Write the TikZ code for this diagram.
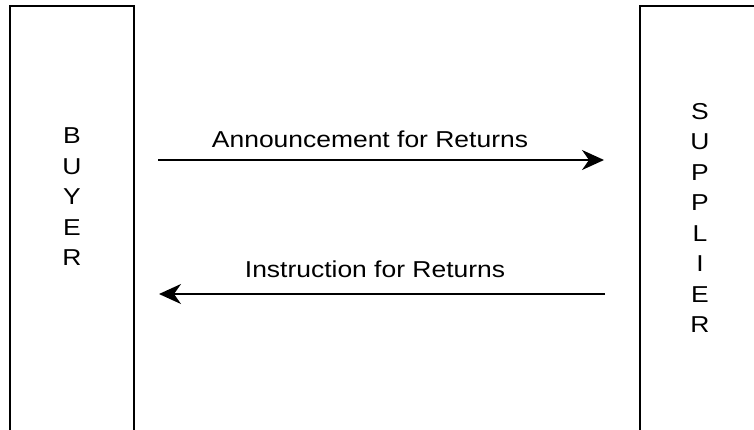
\documentclass[tikz,border=0pt]{standalone}
\usepackage{fontspec}
\setmainfont{Liberation Sans}[FakeStretch=1.15]
\usetikzlibrary{arrows.meta}
\begin{document}
\begin{tikzpicture}[
    x=1pt, y=-1pt,
    party/.style={rectangle, draw=black, line width=1.5pt, minimum width=#1, minimum height=480pt, inner sep=0pt},
    letters/.style={align=center, inner sep=0pt, font=\fontsize{23}{30.5}\selectfont},
    msg/.style={anchor=base, inner sep=0pt, font=\fontsize{23}{26}\selectfont},
    flow/.style={-{Stealth[length=22pt, width=20pt, inset=7pt]}, line width=1.8pt}
]
    \clip (0,0) rectangle (754,429);
    \node[party=124pt] at (72,246) (buyer) {};
    \node[party=120pt] at (700,246) (supplier) {};

    \node[letters] at (72,197) (buyername) {B\\U\\Y\\E\\R};
    \node[letters] at (700,218) (suppliername) {S\\U\\P\\P\\L\\I\\E\\R};

    \coordinate (a1) at (158,160);
    \coordinate (a2) at (604,160);
    \coordinate (b1) at (605,294);
    \coordinate (b2) at (159,294);

    \draw[flow] (a1) -- (a2);
    \draw[flow] (b1) -- (b2);
    \node[msg] at (370,147) (announce) {Announcement for Returns};
    \node[msg] at (375,277) (instruct) {Instruction for Returns};
\end{tikzpicture}
\end{document}
